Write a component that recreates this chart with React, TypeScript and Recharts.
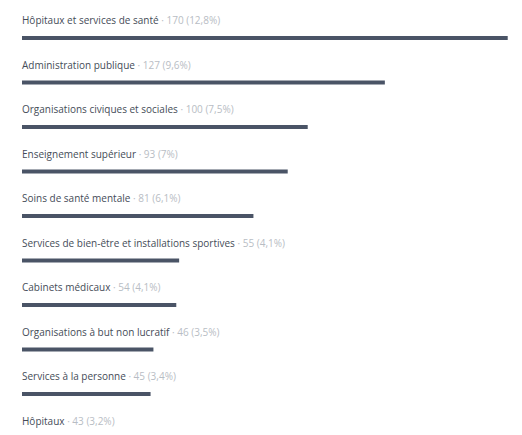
import { Bar, BarChart, LabelList, XAxis, YAxis } from 'recharts';

const industries = [
  'Hôpitaux et services de santé',
  'Administration publique',
  'Organisations civiques et sociales',
  'Enseignement supérieur',
  'Soins de santé mentale',
  'Services de bien-être et installations sportives',
  'Cabinets médicaux',
  'Organisations à but non lucratif',
  'Services à la personne',
  'Hôpitaux',
];
const counts = [170, 127, 100, 93, 81, 55, 54, 46, 45, 43];
const shares = ['12,8%', '9,6%', '7,5%', '7%', '6,1%', '4,1%', '4,1%', '3,5%', '3,4%', '3,2%'];

const data = industries.map((name, i) => ({ name, count: counts[i], share: shares[i] }));

const RowLabel = (props: any) => {
  const { x, y, index } = props;
  const row = data[index];
  return (
    <text x={x} y={y - 12} fontSize={10} fontFamily="'Open Sans', sans-serif">
      <tspan fill="#454c58">{row.name}</tspan>
      <tspan fill="#b8bdc4">{` · ${row.count} (${row.share})`}</tspan>
    </text>
  );
};

export default function App() {
  return (
    <div
      style={{
        position: 'absolute',
        left: 0,
        top: 0,
        width: 522,
        height: 435,
        overflow: 'hidden',
        background: '#fff',
      }}
    >
      <BarChart
        width={522}
        height={461}
        data={data}
        layout="vertical"
        margin={{ top: 16, right: 0, bottom: 0, left: 22 }}
        barCategoryGap={0}
      >
        <XAxis type="number" hide domain={[0, 175]} />
        <YAxis type="category" dataKey="name" hide />
        <Bar dataKey="count" fill="#4a5466" barSize={4} isAnimationActive={false}>
          <LabelList dataKey="name" content={RowLabel} />
        </Bar>
      </BarChart>
    </div>
  );
}
